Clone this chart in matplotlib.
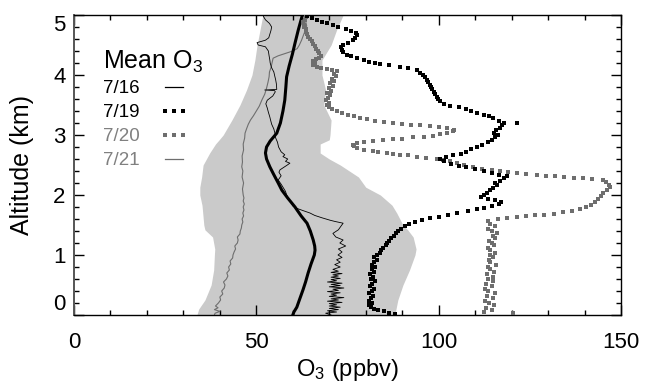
import matplotlib
matplotlib.use("Agg")
import matplotlib.pyplot as plt
from matplotlib.ticker import MultipleLocator

plt.rcParams['font.family'] = ['Liberation Sans', 'DejaVu Sans']
plt.rcParams['mathtext.fontset'] = 'custom'
plt.rcParams['mathtext.rm'] = 'Liberation Sans'
plt.rcParams['mathtext.it'] = 'Liberation Sans'

# --- data (altitude in km, ozone in ppbv) ---

# grey band: range of the profiles
band_alt = [0.0, 0.1, 0.25, 0.5, 0.75, 1.0, 1.1, 1.3, 1.42, 1.5, 1.7, 1.83, 2.0, 2.13,
            2.3, 2.5, 2.6, 2.7, 2.85, 2.92, 3.0, 3.25, 3.5, 3.75, 4.0, 4.25, 4.5, 4.75, 5.0]
band_lo = [33.7, 34.2, 35.9, 37.6, 38.3, 38.5, 38.6, 38.0, 35.9, 35.6, 35.3, 35.1, 34.5, 34.5,
           35.0, 35.4, 36.3, 37.2, 38.8, 39.8, 40.9, 43.3, 45.5, 47.3, 48.8, 49.6, 50.2, 51.0, 51.8]
band_hi = [88.0, 88.3, 88.8, 90.2, 92.0, 93.5, 93.8, 93.0, 91.5, 90.2, 88.5, 87.2, 84.0, 80.0,
           78.0, 73.0, 70.0, 67.5, 67.5, 70.0, 70.2, 70.5, 68.5, 69.0, 68.0, 68.0, 70.5, 72.0, 73.8]

# mean O3 profile
mean_alt = [0.0, 0.05, 0.13, 0.25, 0.42, 0.55, 0.7, 0.85, 1.0, 1.08, 1.15, 1.25, 1.4, 1.53,
            1.65, 1.8, 1.95, 2.08, 2.2, 2.35, 2.47, 2.6, 2.7, 2.8, 2.9, 3.03, 3.2, 3.4, 3.58,
            3.8, 3.97, 4.15, 4.35, 4.53, 4.75, 4.97, 5.0]
mean_o3 = [60.0, 60.3, 61.1, 61.8, 62.8, 63.5, 64.2, 65.0, 65.9, 66.1, 66.0, 65.6, 64.8, 63.9,
           62.3, 60.6, 58.6, 57.0, 56.0, 54.7, 53.7, 52.8, 52.5, 52.8, 53.8, 55.6, 56.6, 57.3, 57.8,
           58.1, 58.3, 59.0, 59.9, 60.6, 61.5, 62.5, 62.6]

# 7/16 (thin black line)
alt_0716 = [0.0, 0.03, 0.05, 0.07, 0.09, 0.11, 0.13, 0.15, 0.17, 0.19, 0.21, 0.23, 0.25, 0.27,
            0.29, 0.31, 0.33, 0.35, 0.37, 0.39, 0.41, 0.43, 0.45, 0.47, 0.49, 0.51, 0.53, 0.55,
            0.57, 0.59, 0.61, 0.63, 0.65, 0.67, 0.69, 0.71, 0.73, 0.76, 0.8, 0.84, 0.88, 0.92,
            0.96, 1.0, 1.05, 1.1, 1.15, 1.2, 1.25, 1.3, 1.36, 1.42, 1.48, 1.53, 1.56, 1.58, 1.62,
            1.66, 1.7, 1.74, 1.78, 1.82, 1.88, 1.94, 2.0, 2.06, 2.12, 2.18, 2.25, 2.32, 2.38,
            2.42, 2.46, 2.5, 2.53, 2.56, 2.6, 2.64, 2.67, 2.72, 2.8, 2.88, 2.95, 3.03, 3.1, 3.18,
            3.25, 3.3, 3.38, 3.45, 3.52, 3.58, 3.65, 3.72, 3.74, 3.75, 3.76, 3.85, 3.92, 3.97,
            4.05, 4.12, 4.2, 4.25, 4.32, 4.4, 4.47, 4.5, 4.54, 4.58, 4.62, 4.68, 4.74, 4.8, 4.86,
            4.92, 4.97, 5.0]
o3_0716 = [70.5, 69.0, 72.0, 69.5, 72.5, 70.0, 73.0, 70.0, 72.0, 70.0, 73.5, 69.5, 72.5, 70.5,
           74.0, 70.0, 72.0, 70.5, 73.0, 69.5, 72.5, 71.0, 74.0, 70.0, 73.0, 70.5, 73.5, 69.5,
           72.0, 70.5, 73.0, 70.5, 72.5, 71.0, 73.5, 70.5, 72.5, 71.0, 73.0, 71.5, 73.0, 72.0,
           73.5, 72.4, 73.5, 72.5, 74.5, 72.9, 73.8, 71.8, 71.0, 72.5, 73.2, 73.8, 71.5, 70.2, 68.0,
           66.0, 64.7, 62.8, 61.0, 60.0, 59.5, 58.8, 58.3, 58.0, 57.4, 56.8, 56.0, 56.8, 56.2,
           56.5, 57.5, 58.5, 59.2, 58.0, 58.6, 57.3, 57.8, 56.8, 56.1, 55.8, 55.3, 55.1, 54.8, 54.2,
           53.9, 53.7, 53.3, 53.0, 52.6, 53.0, 54.5, 55.2, 55.0, 52.3, 55.6, 55.5, 55.3, 55.1,
           54.8, 54.2, 53.8, 53.7, 53.5, 53.3, 52.5, 50.5, 50.2, 52.5, 53.4, 53.7, 54.0, 54.2, 53.6,
           52.5, 52.0, 51.8]

# 7/21 (thin grey line)
alt_0721 = [0.0, 0.03, 0.06, 0.09, 0.12, 0.15, 0.2, 0.25, 0.3, 0.35, 0.4, 0.45, 0.5, 0.55, 0.6,
            0.65, 0.7, 0.75, 0.8, 0.85, 0.9, 0.95, 1.0, 1.05, 1.1, 1.15, 1.2, 1.25, 1.3, 1.35, 1.4,
            1.45, 1.5, 1.55, 1.6, 1.65, 1.7, 1.75, 1.8, 1.85, 1.9, 1.95, 2.0, 2.1, 2.2, 2.3, 2.4,
            2.47, 2.55, 2.65, 2.75, 2.85, 2.95, 3.03, 3.1, 3.18, 3.25, 3.32, 3.4, 3.48, 3.58, 3.68,
            3.78, 3.88, 3.97, 4.05, 4.12, 4.2, 4.28, 4.32, 4.36, 4.4, 4.44, 4.5, 4.58, 4.66, 4.74,
            4.82, 4.9, 5.0]
o3_0721 = [38.5, 38.7, 40.0, 38.5, 39.5, 38.8, 39.6, 40.2, 40.0, 40.8, 40.5, 41.2, 41.4, 41.0, 41.8,
           42.2, 41.9, 42.6, 42.4, 43.0, 42.8, 43.5, 43.6, 43.9, 44.3, 44.1, 44.8, 45.0, 44.8, 45.5, 45.6,
           45.9, 46.0, 46.3, 46.1, 46.5, 46.3, 46.6, 46.4, 46.7, 46.4, 46.6, 46.4, 46.2, 46.5, 46.1, 46.3,
           46.0, 46.2, 46.1, 46.5, 46.4, 46.8, 46.9, 47.3, 47.8, 48.4, 49.2, 50.0, 50.8, 51.5, 52.3,
           52.8, 53.2, 53.5, 53.6, 54.0, 54.3, 54.6, 56.0, 58.0, 60.0, 61.2, 61.8, 62.4, 62.9, 63.4,
           63.8, 63.5, 63.0]

# 7/19 (black squares)
alt_0719 = [0.02, 0.04, 0.06, 0.08, 0.1, 0.13, 0.16, 0.2, 0.24, 0.28, 0.32, 0.36, 0.4, 0.44, 0.48,
            0.52, 0.56, 0.6, 0.64, 0.68, 0.72, 0.76, 0.8, 0.84, 0.88, 0.92, 0.96, 1.0, 1.04, 1.08,
            1.12, 1.16, 1.2, 1.24, 1.28, 1.32, 1.36, 1.4, 1.44, 1.48, 1.52, 1.55, 1.58, 1.61, 1.64,
            1.67, 1.7, 1.73, 1.76, 1.79, 1.82, 1.85, 1.88, 1.91, 1.94, 1.97, 2.0, 2.04, 2.08, 2.12,
            2.16, 2.2, 2.24, 2.28, 2.31, 2.34, 2.37, 2.4, 2.43, 2.46, 2.49, 2.52, 2.56, 2.6, 2.63,
            2.66, 2.69, 2.72, 2.76, 2.8, 2.84, 2.88, 2.92, 2.96, 3.0, 3.04, 3.08, 3.12, 3.16, 3.2,
            3.2, 3.24, 3.28, 3.31, 3.34, 3.37, 3.4, 3.43, 3.46, 3.49, 3.52, 3.56, 3.6, 3.64, 3.68,
            3.72, 3.76, 3.8, 3.84, 3.88, 3.92, 3.96, 4.0, 4.04, 4.08, 4.11, 4.14, 4.16, 4.18, 4.2,
            4.22, 4.25, 4.28, 4.31, 4.34, 4.38, 4.42, 4.46, 4.5, 4.54, 4.58, 4.62, 4.66, 4.7, 4.74,
            4.77, 4.8, 4.83, 4.86, 4.89, 4.92, 4.95, 4.98]
o3_0719 = [88.0, 86.5, 85.0, 83.5, 82.2, 81.5, 81.0, 81.8, 80.8, 81.5, 82.0, 81.0, 81.6, 82.3, 81.2,
           81.8, 82.5, 81.5, 82.0, 81.3, 82.4, 81.8, 82.6, 81.7, 82.2, 83.0, 82.4, 83.2, 83.8, 84.3,
           84.8, 85.5, 85.9, 86.4, 87.0, 87.8, 88.3, 88.9, 89.8, 90.8, 92.0, 93.5, 95.5, 97.5, 100.0,
           102.5, 105.0, 108.0, 110.5, 112.5, 114.5, 116.5, 117.2, 115.5, 113.5, 111.5, 112.3, 113.2,
           114.2, 115.0, 116.0, 115.5, 116.8, 118.0, 118.7, 116.5, 114.5, 112.5, 110.0, 107.5, 105.5,
           103.5, 101.5, 100.3, 102.0, 104.0, 106.0, 107.5, 109.0, 110.5, 112.0, 113.5, 114.5, 115.5,
           116.2, 115.3, 115.8, 116.8, 117.5, 117.8, 121.4, 116.5, 115.0, 113.8, 112.3, 110.5, 109.0,
           107.5, 105.5, 103.0, 101.5, 100.4, 99.8, 99.5, 99.0, 98.8, 98.3, 98.0, 97.5, 97.2, 96.7,
           96.2, 95.8, 95.0, 94.0, 91.5, 89.4, 86.5, 84.0, 82.5, 81.0, 79.5, 77.5, 76.0, 74.8, 73.8,
           73.4, 73.2, 73.8, 75.0, 76.5, 77.0, 77.5, 77.3, 76.0, 74.5, 72.5, 71.0, 69.3, 68.0, 66.5,
           65.2, 64.0]

# 7/20 (grey squares)
alt_0720 = [0.03, 0.05, 0.08, 0.12, 0.16, 0.2, 0.24, 0.28, 0.32, 0.36, 0.4, 0.44, 0.48, 0.52, 0.56,
            0.6, 0.64, 0.68, 0.72, 0.76, 0.8, 0.84, 0.88, 0.92, 0.96, 1.0, 1.04, 1.08, 1.12, 1.16,
            1.2, 1.24, 1.28, 1.32, 1.36, 1.4, 1.44, 1.48, 1.52, 1.56, 1.6, 1.62, 1.64, 1.65, 1.66,
            1.67, 1.69, 1.71, 1.73, 1.76, 1.8, 1.84, 1.89, 1.94, 1.99, 2.04, 2.09, 2.13, 2.17, 2.21,
            2.25, 2.27, 2.28, 2.29, 2.3, 2.31, 2.32, 2.33, 2.35, 2.36, 2.38, 2.4, 2.42, 2.44, 2.47,
            2.5, 2.53, 2.56, 2.58, 2.6, 2.62, 2.64, 2.66, 2.67, 2.68, 2.7, 2.72, 2.73, 2.75, 2.78,
            2.81, 2.84, 2.86, 2.88, 2.9, 2.91, 2.93, 2.94, 2.96, 2.97, 2.99, 3.01, 3.04, 3.07, 3.09,
            3.12, 3.14, 3.15, 3.16, 3.17, 3.18, 3.2, 3.22, 3.24, 3.26, 3.28, 3.31, 3.34, 3.37, 3.4,
            3.43, 3.46, 3.5, 3.54, 3.58, 3.62, 3.66, 3.7, 3.74, 3.78, 3.82, 3.86, 3.9, 3.94, 3.98,
            4.02, 4.06, 4.08, 4.1, 4.12, 4.14, 4.17, 4.2, 4.23, 4.26, 4.29, 4.32, 4.36, 4.4, 4.44,
            4.48, 4.52, 4.56, 4.6, 4.64, 4.68, 4.72, 4.76, 4.8, 4.84, 4.88, 4.92, 4.96, 5.0]
o3_0720 = [120.5, 112.5, 114.5, 113.0, 115.2, 113.8, 112.6, 114.8, 113.2, 115.5, 113.5, 112.8, 114.6,
           113.0, 115.0, 113.6, 114.8, 113.2, 115.3, 114.0, 113.5, 115.6, 114.2, 113.8, 115.0, 114.2,
           115.5, 114.0, 113.6, 115.2, 114.5, 113.8, 115.4, 114.8, 116.0, 114.6, 113.5, 115.5, 114.2,
           113.5, 116.3, 118.8, 121.4, 124.0, 126.5, 129.0, 131.5, 134.0, 136.5, 138.7, 140.5, 141.8,
           143.0, 143.8, 144.5, 145.2, 146.2, 147.0, 146.8, 146.0, 145.0, 142.0, 139.6, 137.0, 134.5,
           132.0, 129.5, 127.0, 124.0, 121.4, 119.0, 116.8, 114.5, 112.0, 109.5, 107.0, 105.0, 103.0,
           101.3, 99.5, 96.5, 94.0, 91.5, 89.4, 87.5, 85.7, 83.5, 82.0, 79.5, 77.5, 76.7, 76.5, 77.5,
           79.5, 82.0, 84.8, 87.5, 90.0, 93.0, 96.0, 98.5, 100.5, 102.3, 104.0, 104.3, 102.2, 100.0,
           97.5, 95.0, 92.5, 90.0, 87.5, 85.0, 82.5, 80.3, 78.5, 76.7, 75.0, 73.5, 72.0, 70.8, 69.8,
           69.3, 69.8, 69.0, 69.6, 70.2, 69.4, 70.5, 70.0, 71.0, 70.3, 71.2, 70.8, 71.8, 71.2, 72.0,
           70.8, 69.3, 67.8, 66.5, 65.6, 66.0, 65.5, 66.3, 67.2, 67.6, 67.2, 66.8, 66.3, 66.0, 65.6,
           65.2, 64.8, 64.3, 64.0, 63.6, 63.5, 63.1, 63.0, 62.9, 63.3, 63.6, 63.9]

dates = ['7/16', '7/19', '7/20', '7/21']

# --- plotting ---
band_col = '#cacaca'
grey = '#6e6e6e'
sq = 3.3  # square marker size

fig = plt.figure(figsize=(6.45, 3.83), dpi=100)
ax = fig.add_axes([74 / 645, 1 - 315 / 383, 547 / 645, 300 / 383])

ax.fill_betweenx(band_alt, band_lo, band_hi, color=band_col, lw=0, zorder=1)
ax.plot(o3_0721, alt_0721, color=grey, lw=0.8, zorder=2)
ax.plot(o3_0716, alt_0716, color='black', lw=0.6, zorder=2)
ax.plot(mean_o3, mean_alt, color='black', lw=2.2, zorder=3)
ax.plot(o3_0720, alt_0720, ls='none', marker='s', ms=sq, mew=0, color=grey, zorder=4)
ax.plot(o3_0719, alt_0719, ls='none', marker='s', ms=sq, mew=0, color='black', zorder=4)

ax.set_xlim(0, 150)
ax.set_ylim(0, 5)
ax.set_xticks([0, 50, 100, 150])
ax.set_yticks([0, 1, 2, 3, 4, 5])
ax.xaxis.set_minor_locator(MultipleLocator(10))
ax.yaxis.set_minor_locator(MultipleLocator(0.2))
ax.tick_params(which='both', direction='in', top=True, right=True, width=1)
ax.tick_params(which='major', length=7)
ax.tick_params(which='minor', length=3.5)
ax.tick_params(axis='x', labelsize=16, pad=12)
ax.tick_params(axis='y', labelsize=16, pad=6)
for sp in ax.spines.values():
    sp.set_linewidth(1)
ax.spines['left'].set_color('#555555')
ax.spines['left'].set_linewidth(1.4)

ylabs = ax.get_yticklabels()
ylabs[0].set_va('bottom')
ylabs[-1].set_va('top')

ax.set_xlabel('O$_3$ (ppbv)', fontsize=17)
ax.xaxis.set_label_coords(0.5, (315 - 357) / 300)
ax.set_ylabel('Altitude (km)', fontsize=18)
ax.yaxis.label.set_va('center')
ax.yaxis.set_label_coords((22 - 74) / 547, 0.5)

# legend drawn by hand, like the original
tx = (103 - 74) / 547
ax.text(tx, 0.82, 'Mean O$_3$', transform=ax.transAxes, fontsize=18, va='baseline')
ycols = ['black', 'black', '#808080', '#808080']
for i, d in enumerate(dates):
    yb = 0.74 - 0.08 * i
    ax.text(tx, yb, d, transform=ax.transAxes, fontsize=13.5, va='baseline', color=ycols[i])
    ym = yb + 0.02
    if d in ('7/16', '7/21'):
        ax.plot([0.166, 0.199], [ym, ym], transform=ax.transAxes, lw=0.9,
                color='black' if d == '7/16' else grey)
    else:
        ax.plot([0.166, 0.1825, 0.199], [ym, ym, ym], transform=ax.transAxes, ls='none',
                marker='s', ms=sq, mew=0, color='black' if d == '7/19' else grey)

fig.savefig('out.png', dpi=100)
